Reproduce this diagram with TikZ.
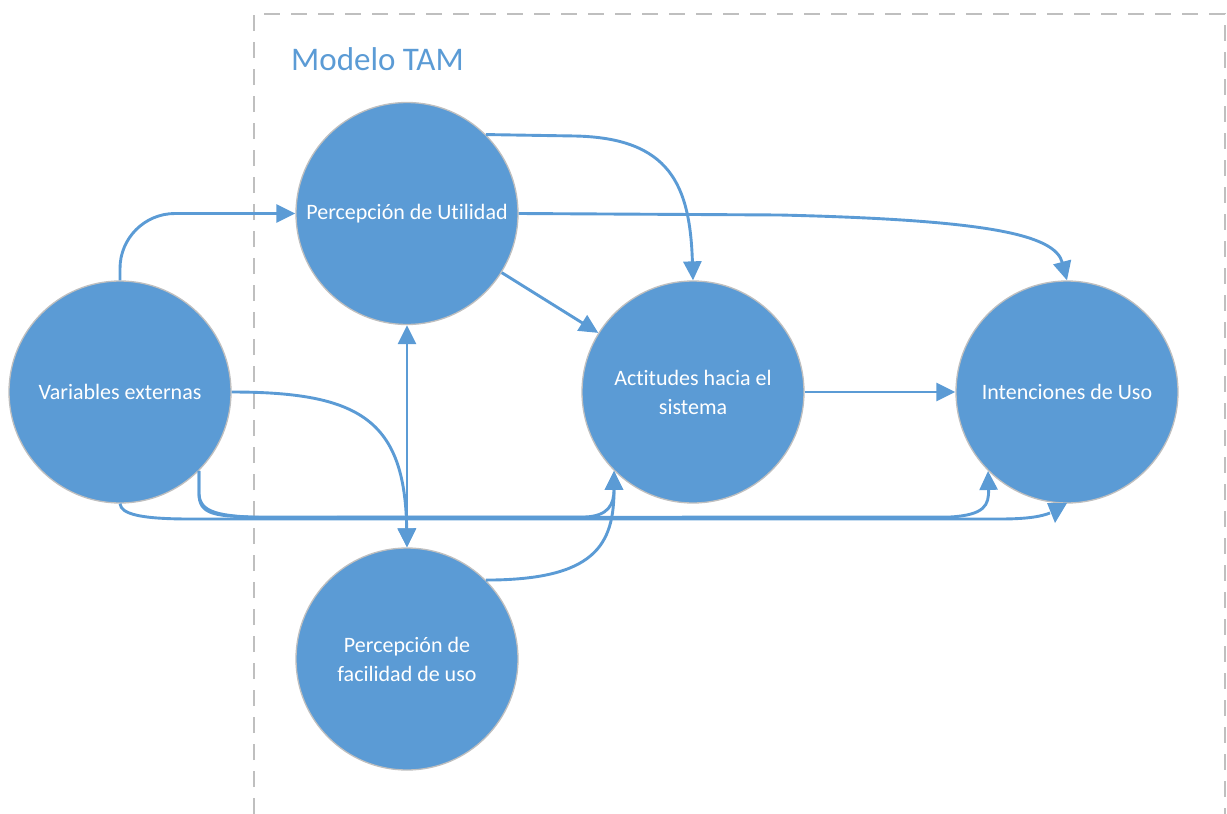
\documentclass[tikz,border=0pt]{standalone}
\usepackage{fontspec}
\setmainfont{Carlito}[Ligatures=NoCommon]
\usetikzlibrary{arrows.meta}
\definecolor{tamblue}{HTML}{5B9BD5}
\definecolor{rimgray}{HTML}{BFBFBF}
\begin{document}
\begin{tikzpicture}[x=1pt,y=-1pt,
  >={Triangle[length=19pt,width=18pt]},
  construct/.style={circle, fill=tamblue, draw=rimgray, line width=1.3pt,
    minimum size=222pt, inner sep=0pt, text=white, align=center,
    font=\fontsize{22}{29}\selectfont},
  link/.style={draw=tamblue, line width=2.9pt, ->},
  frame/.style={draw=rimgray, line width=1.8pt, dash pattern=on 16pt off 11pt}
]
\useasboundingbox (0,0) rectangle (1227,814);

% model boundary
\draw[frame] (254,814) -- (254,14) -- (1225,14) -- (1225,814);
\node[anchor=base west, text=tamblue, inner sep=0pt,
      font=\fontsize{33}{40}\selectfont] (title) at (291,70) {Modelo TAM};

% constructs
\node[construct] (v) at (120,392)   {Variables externas};
\node[construct] (u) at (407,213.5) {Percepción de Utilidad};
\node[construct] (a) at (693,392)   {Actitudes hacia el\\sistema};
\node[construct] (i) at (1067,392)  {Intenciones de Uso};
\node[construct] (f) at (407,659)   {Percepción de\\facilidad de uso};

% relations
\draw[link, rounded corners=55pt] (v.north) |- (u.west);
\draw[link] (v.east) .. controls (360,392) and (405,420) .. (f.north);
\draw[link, <->] (u) -- (f);
\draw[link] (u.45) -- (575,136) .. controls (670,138) and (690,185) .. (a.north);
\draw[link] (u.east) -- (780,215) .. controls (990,220) and (1055,235) .. (i.north);
\draw[link] (u) -- (a);
\draw[link] (a) -- (i);
\draw[link] (f.45) .. controls (595,580) and (614,545) .. (a.-135);
\draw[link] (v.-45) -- (199,494) .. controls (199,514) and (215,516) .. (250,517)
  -- (585,517) .. controls (608,516) and (614,505) .. (a.-135);
\draw[link] (v.-45) -- (199,494) .. controls (200,513) and (220,516) .. (260,517.5)
  -- (950,517) .. controls (985,515) and (989,505) .. (i.-135);
\coordinate (vend) at (1050,513);
\draw[draw=tamblue, line width=2.9pt] (v.south) .. controls (121,514) and (140,519) .. (190,519)
  -- (1000,519) .. controls (1030,519) and (1042,516) .. (vend);
\fill[tamblue] (1047,503) -- (1067,503) -- (1055,523) -- cycle;
\end{tikzpicture}
\end{document}
